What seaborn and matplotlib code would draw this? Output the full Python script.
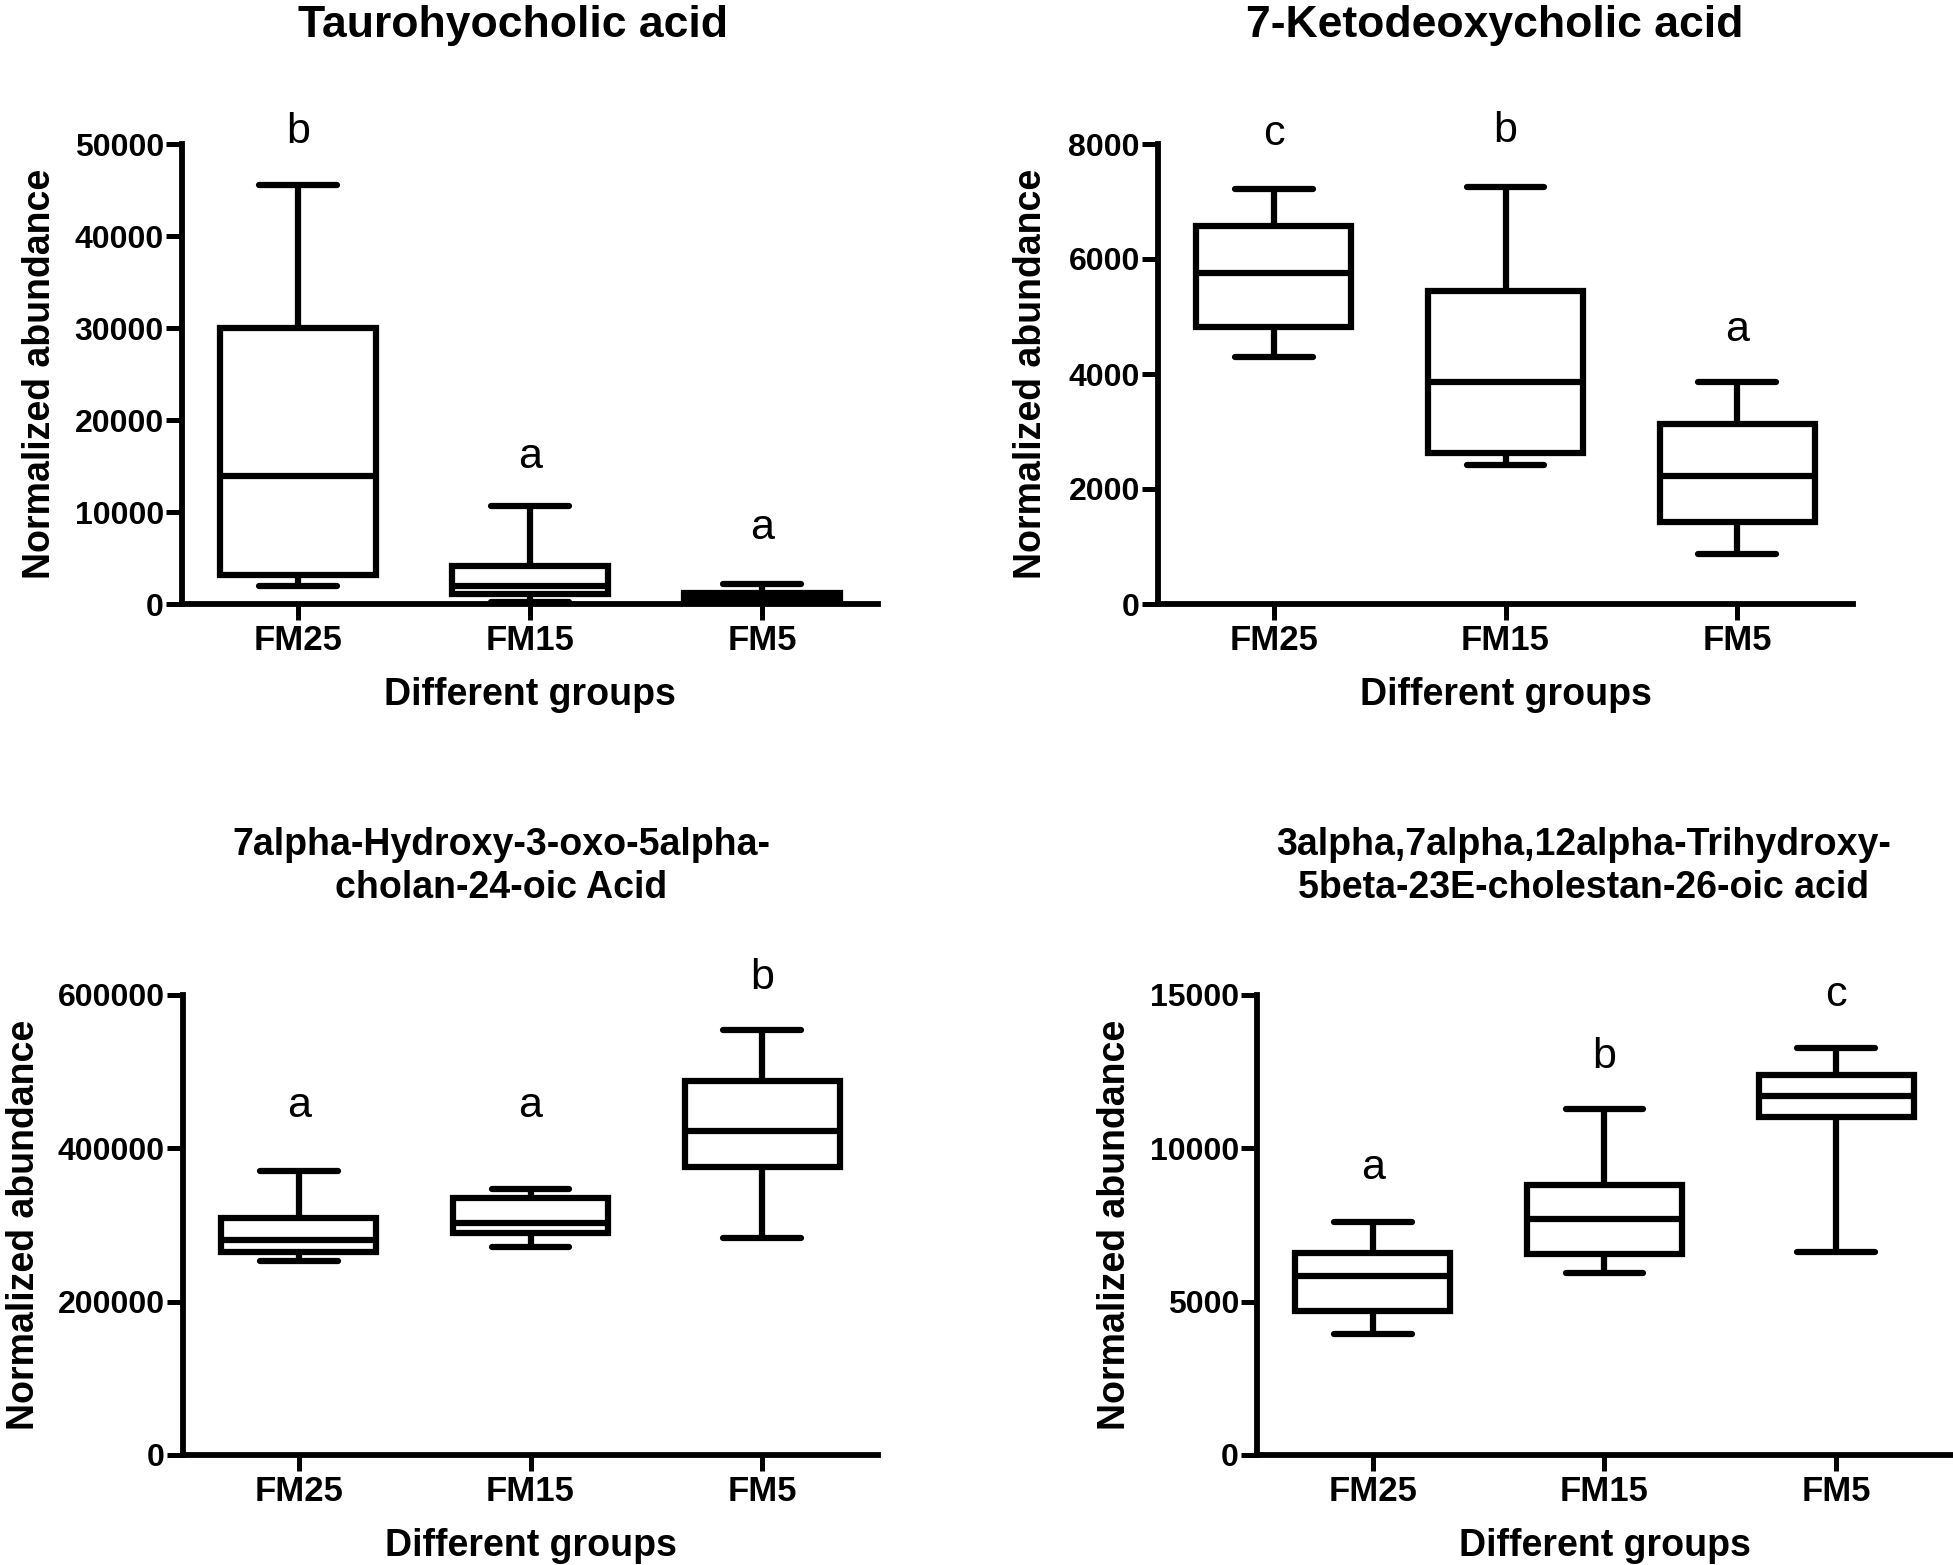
import numpy as np
import pandas as pd
import matplotlib
matplotlib.use("Agg")
import matplotlib.pyplot as plt
import seaborn as sns

# ---------------- data ----------------
groups = ["FM25", "FM15", "FM5"]

# each list: [min, Q1, median, Q3, max]
tauro_fm25 = [2000, 3150, 13900, 30050, 45500]
tauro_fm15 = [200, 1100, 2000, 4100, 10600]
tauro_fm5 = [50, 300, 650, 1150, 2200]
tauro_letters = ["b", "a", "a"]
tauro_letter_y = [50100, 14800, 7100]
tauro_ticks = [0, 10000, 20000, 30000, 40000, 50000]

keto_fm25 = [4290, 4820, 5760, 6570, 7220]
keto_fm15 = [2420, 2620, 3860, 5440, 7260]
keto_fm5 = [870, 1420, 2220, 3130, 3860]
keto_letters = ["c", "b", "a"]
keto_letter_y = [7990, 8030, 4570]
keto_ticks = [0, 2000, 4000, 6000, 8000]

hoca_fm25 = [253000, 265000, 281000, 309000, 370000]
hoca_fm15 = [271000, 290000, 303000, 335000, 347000]
hoca_fm5 = [283000, 376000, 422000, 488000, 554000]
hoca_letters = ["a", "a", "b"]
hoca_letter_y = [441000, 441000, 607500]
hoca_ticks = [0, 200000, 400000, 600000]

thca_fm25 = [3950, 4700, 5830, 6580, 7590]
thca_fm15 = [5940, 6550, 7680, 8790, 11290]
thca_fm5 = [6630, 11010, 11710, 12380, 13260]
thca_letters = ["a", "b", "c"]
thca_letter_y = [8990, 12630, 14640]
thca_ticks = [0, 5000, 10000, 15000]

titles = [
    ["Taurohyocholic acid"],
    ["7-Ketodeoxycholic acid"],
    ["7alpha-Hydroxy-3-oxo-5alpha-", "cholan-24-oic Acid"],
    ["3alpha,7alpha,12alpha-Trihydroxy-", "5beta-23E-cholestan-26-oic acid"],
]

# ---------------- style ----------------
sns.set_theme(style="ticks")
plt.rcParams["font.family"] = ["Liberation Sans", "DejaVu Sans"]
for k in ["text.color", "axes.labelcolor", "xtick.color", "ytick.color", "axes.edgecolor"]:
    plt.rcParams[k] = "black"

W, H = 1953, 1565
fig = plt.figure(figsize=(W / 100, H / 100), dpi=100)
fig.patch.set_facecolor("white")


def fx(x):
    return x / W


def fy(y):
    return 1 - y / H


# panel geometry in pixels: left, top, right, bottom
boxes = [
    (182, 144, 878, 604),
    (1158, 144, 1853, 604),
    (183, 995, 878, 1455),
    (1257, 995, 1952, 1455),
]
ylabel_x = [40, 1031, 24, 1115]
title_cx = [513, 1495, 501, 1584]
title_size = [32, 32, 27, 27]
title_base = [[37], [37], [855, 898], [855, 898]]

panels = [
    (tauro_fm25, tauro_fm15, tauro_fm5, tauro_letters, tauro_letter_y, tauro_ticks),
    (keto_fm25, keto_fm15, keto_fm5, keto_letters, keto_letter_y, keto_ticks),
    (hoca_fm25, hoca_fm15, hoca_fm5, hoca_letters, hoca_letter_y, hoca_ticks),
    (thca_fm25, thca_fm15, thca_fm5, thca_letters, thca_letter_y, thca_ticks),
]

lw = 4.5
for i, (a25, a15, a5, letters, ly, ticks) in enumerate(panels):
    l, t, r, b = boxes[i]
    ax = fig.add_axes([fx(l), fy(b), fx(r - l), (b - t) / H])
    df = pd.DataFrame({
        "group": np.repeat(groups, [len(a25), len(a15), len(a5)]),
        "value": np.concatenate([a25, a15, a5]),
    })
    sns.boxplot(data=df, x="group", y="value", order=groups, ax=ax,
                whis=(0, 100), width=0.67, color="white", linecolor="black",
                linewidth=lw, saturation=1, showfliers=False,
                capprops=dict(solid_capstyle="round"),
                whiskerprops=dict(solid_capstyle="butt"))
    ax.set_xlim(-0.5, 2.5)
    ax.set_ylim(ticks[0], ticks[-1])
    ax.set_yticks(ticks)
    ax.set_yticklabels([str(v) for v in ticks])
    sns.despine(ax=ax)
    for s in ["left", "bottom"]:
        ax.spines[s].set_linewidth(4.2)
        ax.spines[s].set_color("black")
    ax.tick_params(axis="both", direction="out", length=11.5, width=3.6, colors="black")
    ax.tick_params(axis="y", labelsize=23, pad=1.5)
    ax.tick_params(axis="x", labelsize=25, pad=3)
    for lab in ax.get_xticklabels() + ax.get_yticklabels():
        lab.set_fontweight("bold")
    ax.set_xlabel("")
    ax.set_ylabel("")
    ax.set_facecolor("white")
    for k, (lt, yv) in enumerate(zip(letters, ly)):
        ax.text(k, yv, lt, ha="center", va="baseline", fontsize=31,
                fontweight="normal", clip_on=False)

    # axis labels
    fig.text(fx((l + r) / 2), fy(b + 101), "Different groups", ha="center",
             va="baseline", fontsize=27, fontweight="bold")
    fig.text(fx(ylabel_x[i]), fy((t + b) / 2), "Normalized abundance",
             rotation=90, ha="center", va="center", fontsize=27, fontweight="bold")
    # titles
    for line, base in zip(titles[i], title_base[i]):
        fig.text(fx(title_cx[i]), fy(base), line, ha="center", va="baseline",
                 fontsize=title_size[i], fontweight="bold")

fig.savefig("out.png", dpi=100, facecolor="white")
